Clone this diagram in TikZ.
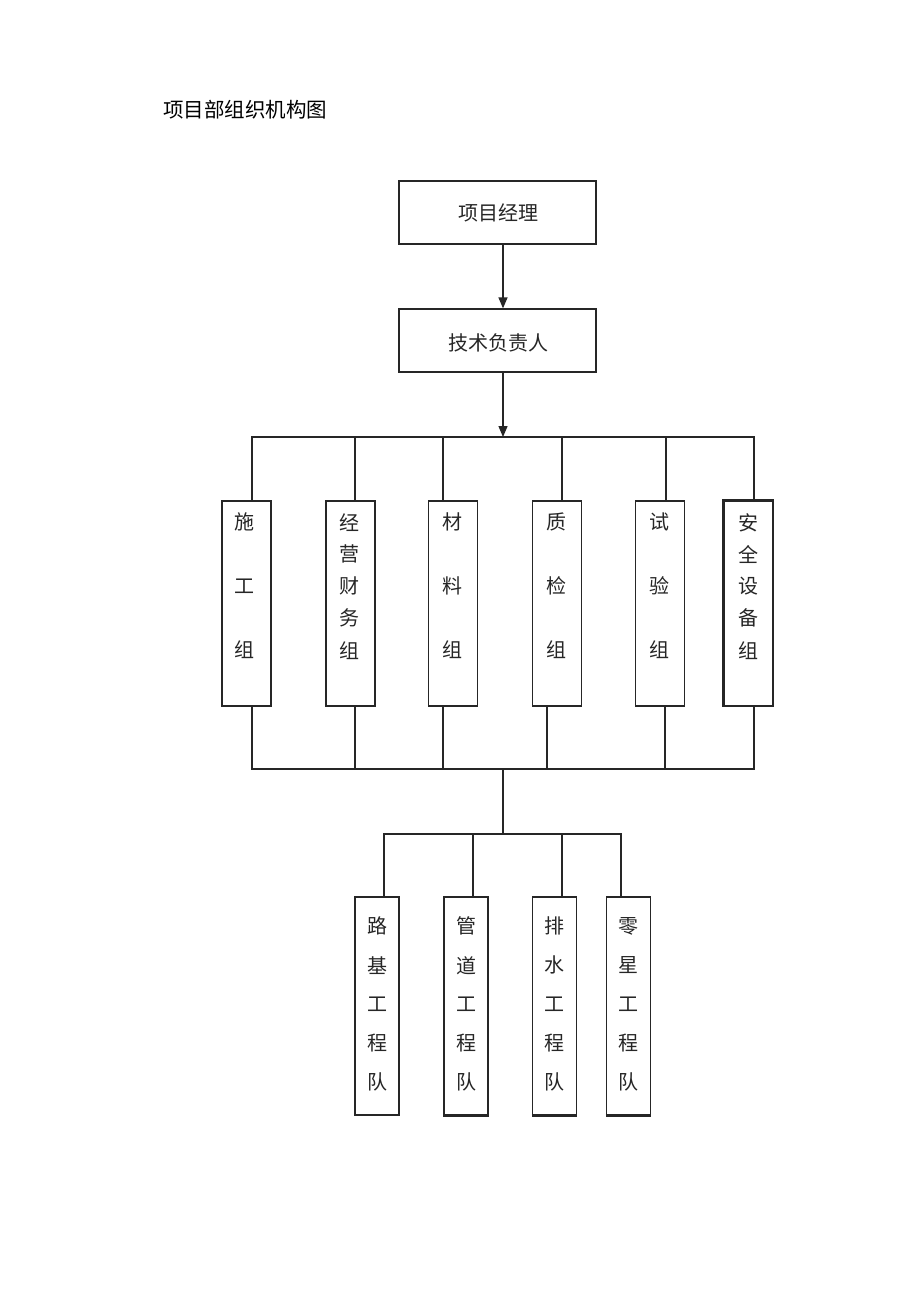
\documentclass[tikz,border=0pt]{standalone}
\usepackage{fontspec}
\setmainfont{Noto Sans CJK SC}
\newfontfamily\cjk{Noto Sans CJK SC}
\usetikzlibrary{calc,arrows.meta}
\tikzset{
  ln/.style={line width=1.3pt, draw=black!85},
  arr/.style={ln, -{Triangle[length=11pt,width=9pt]}},
  hbox/.style={ln, rectangle, minimum width=197pt, minimum height=63pt, inner sep=0pt},
  gbox/.style={ln, rectangle, minimum width=49pt, minimum height=205pt, inner sep=0pt},
  tbox/.style={ln, rectangle, minimum width=44pt, minimum height=218pt, inner sep=0pt},
  ch/.style={inner sep=0pt, text=black!85, font=\cjk\fontsize{20}{20}\selectfont},
  hlabel/.style={inner sep=0pt, text=black!85, font=\cjk\fontsize{20}{20}\selectfont},
  ttl/.style={inner sep=0pt, anchor=west, text=black, font=\cjk\fontsize{20.5}{20.5}\selectfont}
}
\begin{document}
\begin{tikzpicture}[x=1pt,y=-1pt]
\useasboundingbox[fill=white] (0,0) rectangle (920,1301);
\node[ttl] (title) at (163,110) {项目部组织机构图};

% top boxes
\node[hbox] (pm) at (497.5,212.5) {};
\node[hlabel] (pmt) at (498,213) {项目经理};
\node[hbox] (tech) at (497.5,340.5) {};
\node[hlabel] (techt) at (498,343) {技术负责人};

% group boxes
\node[gbox] (b1) at (246.5,603.5) {};
\node[gbox] (b2) at (350.5,603.5) {};
\node[gbox] (b3) at (453,603.5) {};
\node[gbox] (b4) at (557,603.5) {};
\node[gbox] (b5) at (660,603.5) {};
\node[gbox] (b6) at (748.5,603.5) {};
\draw[line width=2.4pt, draw=black!85] (b6.south west) -- (b6.north west) -- (b6.north east);

\foreach \c [count=\i] in {施,工,组}
  \node[ch] (b1c\i) at ($(b1.north)+(-2,{22+(\i-1)*63.5})$) {\c};
\foreach \c [count=\i] in {经,营,财,务,组}
  \node[ch] (b2c\i) at ($(b2.north)+(-1,{22+(\i-1)*32})$) {\c};
\foreach \c [count=\i] in {材,料,组}
  \node[ch] (b3c\i) at ($(b3.north)+(-1,{22+(\i-1)*63.5})$) {\c};
\foreach \c [count=\i] in {质,检,组}
  \node[ch] (b4c\i) at ($(b4.north)+(-1,{22+(\i-1)*63.5})$) {\c};
\foreach \c [count=\i] in {试,验,组}
  \node[ch] (b5c\i) at ($(b5.north)+(-1,{22+(\i-1)*63.5})$) {\c};
\foreach \c [count=\i] in {安,全,设,备,组}
  \node[ch] (b6c\i) at ($(b6.north)+(0,{22+(\i-1)*32})$) {\c};

% team boxes
\node[tbox] (t1) at (377,1006) {};
\node[tbox] (t2) at (466,1006) {};
\node[tbox] (t3) at (554.5,1006) {};
\node[tbox] (t4) at (628.5,1006) {};
\draw[line width=2.4pt, draw=black!85] (t2.south west) -- (t2.south east);
\draw[line width=2.4pt, draw=black!85] (t3.south west) -- (t3.south east);
\draw[line width=2.4pt, draw=black!85] (t4.south west) -- (t4.south east);

\foreach \c [count=\i] in {路,基,工,程,队}
  \node[ch] (t1c\i) at ($(t1.north)+(0,{30+(\i-1)*39})$) {\c};
\foreach \c [count=\i] in {管,道,工,程,队}
  \node[ch] (t2c\i) at ($(t2.north)+(0,{30+(\i-1)*39})$) {\c};
\foreach \c [count=\i] in {排,水,工,程,队}
  \node[ch] (t3c\i) at ($(t3.north)+(0,{30+(\i-1)*39})$) {\c};
\foreach \c [count=\i] in {零,星,工,程,队}
  \node[ch] (t4c\i) at ($(t4.north)+(0,{30+(\i-1)*39})$) {\c};

% connectors
\coordinate (busT) at (503,437);
\coordinate (busB) at (503,769);
\coordinate (busC) at (503,834);

\draw[arr] ([xshift=5.5pt]pm.south) -- ([xshift=5.5pt]tech.north);
\draw[arr] ([xshift=5.5pt]tech.south) -- (busT);

\draw[ln] ([xshift=5.5pt]b1.north) |- (busT) -| ([xshift=5.5pt]b6.north);
\draw[ln] ([xshift=4.5pt]b2.north) -- ([xshift=4.5pt]b2.north |- busT);
\draw[ln] ([xshift=-10pt]b3.north) -- ([xshift=-10pt]b3.north |- busT);
\draw[ln] ([xshift=5pt]b4.north) -- ([xshift=5pt]b4.north |- busT);
\draw[ln] ([xshift=6pt]b5.north) -- ([xshift=6pt]b5.north |- busT);

\draw[ln] ([xshift=5.5pt]b1.south) |- (busB) -| ([xshift=5.5pt]b6.south);
\draw[ln] ([xshift=4.5pt]b2.south) -- ([xshift=4.5pt]b2.south |- busB);
\draw[ln] ([xshift=-10pt]b3.south) -- ([xshift=-10pt]b3.south |- busB);
\draw[ln] ([xshift=-10pt]b4.south) -- ([xshift=-10pt]b4.south |- busB);
\draw[ln] ([xshift=5pt]b5.south) -- ([xshift=5pt]b5.south |- busB);
\draw[ln] (busB) -- (busC);

\draw[ln] ([xshift=7pt]t1.north) |- (busC) -| ([xshift=-7.5pt]t4.north);
\draw[ln] ([xshift=7pt]t2.north) -- ([xshift=7pt]t2.north |- busC);
\draw[ln] ([xshift=7.5pt]t3.north) -- ([xshift=7.5pt]t3.north |- busC);
\end{tikzpicture}
\end{document}
